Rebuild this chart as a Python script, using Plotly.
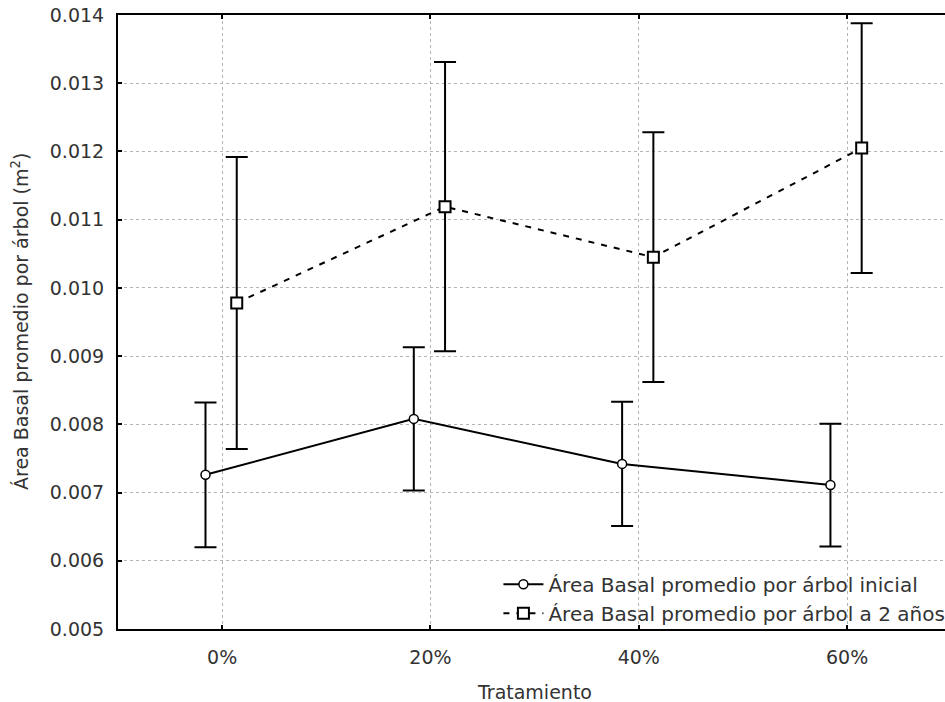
import plotly.graph_objects as go

# ---- data ----
categories = ["0%", "20%", "40%", "60%"]
inicial = [0.00726, 0.00808, 0.00742, 0.00711]
inicial_err = [0.00106, 0.00105, 0.00091, 0.00090]
dos_anos = [0.00978, 0.01119, 0.01045, 0.01205]
dos_anos_err = [0.00214, 0.00212, 0.00183, 0.00183]
name_inicial = "Área Basal promedio por árbol inicial"
name_dos = "Área Basal promedio por árbol a 2 años"
x_title = "Tratamiento"
y_title = "Área Basal promedio por árbol (m<sup>2</sup>)"

# ---- styles ----
FONT = "DejaVu Sans"
FS = 19
OFF1, OFF2 = -0.08, 0.07
idx = list(range(len(categories)))

fig = go.Figure()
fig.add_trace(go.Scatter(
    x=[i + OFF1 for i in idx], y=inicial, name=name_inicial,
    mode="lines+markers",
    line=dict(color="black", width=2),
    marker=dict(symbol="circle", size=9, color="white",
                line=dict(color="black", width=1.5)),
    error_y=dict(type="data", array=inicial_err, visible=True,
                 color="black", thickness=2, width=11),
))
fig.add_trace(go.Scatter(
    x=[i + OFF2 for i in idx], y=dos_anos, name=name_dos,
    mode="lines+markers",
    line=dict(color="black", width=2, dash="6px,7px"),
    marker=dict(symbol="square", size=11, color="white",
                line=dict(color="black", width=2)),
    error_y=dict(type="data", array=dos_anos_err, visible=True,
                 color="black", thickness=2, width=11),
))

fig.update_layout(
    width=945, height=702,
    margin=dict(l=118, r=0, t=15, b=73, autoexpand=False),
    paper_bgcolor="white", plot_bgcolor="white",
    font=dict(family=FONT, size=FS, color="#333"),
    showlegend=True,
    legend=dict(x=0.4600, xanchor="left", y=-0.006, yanchor="bottom",
                bgcolor="rgba(0,0,0,0)", borderwidth=0,
                font=dict(family=FONT, size=20, color="#333"),
                itemwidth=40, tracegroupgap=0),
)
fig.update_xaxes(
    range=[-0.5, 3.47], tickmode="array", tickvals=idx, ticktext=categories,
    showline=True, linecolor="black", linewidth=2, mirror="ticks",
    ticks="inside", ticklen=4, tickcolor="black", tickwidth=2,
    showgrid=True, gridcolor="#b4b4b4", griddash="dot", gridwidth=1,
    zeroline=False, ticklabelstandoff=10,
    tickfont=dict(family=FONT, size=FS, color="#333"),
)
fig.update_yaxes(
    range=[0.005, 0.014], dtick=0.001, tick0=0.005, tickformat=".3f",
    showline=True, linecolor="black", linewidth=2, mirror=False,
    ticks="inside", ticklen=4, tickcolor="black", tickwidth=2,
    showgrid=True, gridcolor="#b4b4b4", griddash="dot", gridwidth=1,
    zeroline=False, ticklabelstandoff=8,
    tickfont=dict(family=FONT, size=FS, color="#333"),
)
fig.add_annotation(
    text=x_title, xref="x", yref="paper", x=1.5, y=0, yshift=-63,
    showarrow=False, xanchor="center", yanchor="middle",
    font=dict(family=FONT, size=FS, color="#333"),
)
fig.add_annotation(
    text=y_title, xref="paper", yref="paper", x=0, y=0.5, xshift=-98,
    textangle=-90, showarrow=False, xanchor="center", yanchor="middle",
    font=dict(family=FONT, size=FS, color="#333"),
)

fig.write_html("out.html")
